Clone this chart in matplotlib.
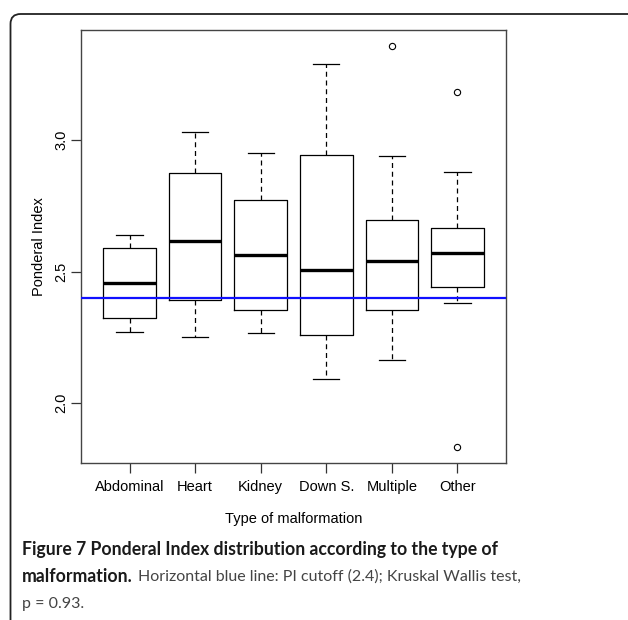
import matplotlib
matplotlib.use("Agg")
import matplotlib.pyplot as plt
from matplotlib.patches import FancyBboxPatch

plt.rcParams['font.family'] = ['Liberation Sans', 'DejaVu Sans']

groups = ["Abdominal", "Heart", "Kidney", "Down S.", "Multiple", "Other"]
whisker_low = [2.270, 2.250, 2.266, 2.092, 2.163, 2.380]
q1 = [2.323, 2.391, 2.353, 2.259, 2.354, 2.441]
median = [2.458, 2.616, 2.563, 2.506, 2.539, 2.571]
q3 = [2.591, 2.874, 2.773, 2.942, 2.695, 2.665]
whisker_high = [2.639, 3.029, 2.949, 3.290, 2.939, 2.877]
outliers = [[], [], [], [], [3.357], [3.183, 1.835]]
cutoff = 2.4

W, H = 628, 620
fig = plt.figure(figsize=(W / 100, H / 100), dpi=100)

# rounded figure frame, running off the right and bottom edges
frame = FancyBboxPatch((10.5 / W, -0.2), 1.0, 1.2 - 14 / H,
                       boxstyle="round,pad=0,rounding_size=0.016",
                       transform=fig.transFigure, fill=False,
                       edgecolor="#222222", linewidth=1.3, clip_on=False)
fig.patches.append(frame)

ax = fig.add_axes([81 / W, 1 - 463 / H, (506 - 81) / W, (463 - 30) / H])

stats = []
for i, g in enumerate(groups):
    stats.append(dict(label=g, whislo=whisker_low[i], q1=q1[i], med=median[i],
                      q3=q3[i], whishi=whisker_high[i], fliers=outliers[i]))

ax.bxp(stats, positions=range(1, len(groups) + 1), widths=0.8,
       boxprops=dict(color="black", linewidth=0.9),
       medianprops=dict(color="black", linewidth=2.4, solid_capstyle="butt"),
       whiskerprops=dict(color="black", linewidth=0.9, linestyle=(0, (4, 3))),
       capprops=dict(color="black", linewidth=0.9),
       capwidths=0.4,
       flierprops=dict(marker="o", markersize=4.5, markerfacecolor="none",
                       markeredgecolor="black", markeredgewidth=0.8))

ax.axhline(cutoff, color="#1010ff", linewidth=1.6, zorder=5)

ax.set_xlim(0.26, 6.74)
ax.set_ylim(1.773, 3.418)
ax.set_yticks([2.0, 2.5, 3.0])
ax.set_yticklabels(["2.0", "2.5", "3.0"], rotation=90, va="center")
ax.tick_params(axis="both", length=7, width=0.9, labelsize=10.5, color="#333333")
ax.tick_params(axis="x", pad=5)
ax.tick_params(axis="y", pad=2)
for s in ax.spines.values():
    s.set_color("#444444")
    s.set_linewidth(1.0)

ax.set_xlabel("Type of malformation", fontsize=10.5, labelpad=13)
ax.set_ylabel("Ponderal Index", fontsize=10.5, labelpad=6)

# caption below the plot
cap_x = 22 / W
bold_kw = dict(fontsize=12.7, fontweight="bold", color="#1a1a1a",
               family=["Lato", "DejaVu Sans"], va="center", ha="left")
reg_kw = dict(fontsize=11.5, color="#444444",
              family=["Lato", "DejaVu Sans"], va="center", ha="left")
fig.text(cap_x, 1 - 550 / H,
         "Figure 7 Ponderal Index distribution according to the type of", **bold_kw)
t2 = fig.text(cap_x, 1 - 577 / H, "malformation.", **bold_kw)
fig.canvas.draw()
bb = t2.get_window_extent()
fig.text(bb.x1 / W + 5 / W, 1 - 577 / H,
         "Horizontal blue line: PI cutoff (2.4); Kruskal Wallis test,", **reg_kw)
fig.text(cap_x, 1 - 604 / H, "p = 0.93.", **reg_kw)

fig.savefig("out.png", dpi=100)
